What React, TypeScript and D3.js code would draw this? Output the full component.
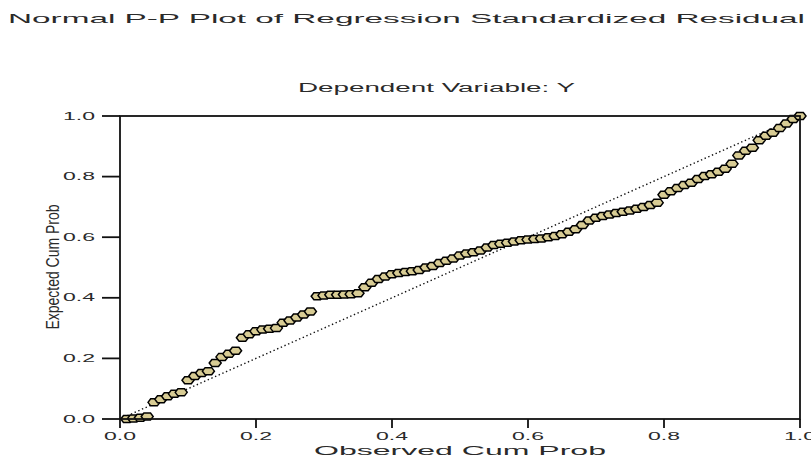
import React from 'react';
import * as d3 from 'd3';

// observed cumulative probability (x) and expected cumulative probability (y)
const observed = [
  0.01, 0.02, 0.03, 0.04, 0.05, 0.06, 0.07, 0.08, 0.09, 0.10,
  0.11, 0.12, 0.13, 0.14, 0.15, 0.16, 0.17, 0.18, 0.19, 0.20,
  0.21, 0.22, 0.23, 0.24, 0.25, 0.26, 0.27, 0.28, 0.29, 0.30,
  0.31, 0.32, 0.33, 0.34, 0.35, 0.36, 0.37, 0.38, 0.39, 0.40,
  0.41, 0.42, 0.43, 0.44, 0.45, 0.46, 0.47, 0.48, 0.49, 0.50,
  0.51, 0.52, 0.53, 0.54, 0.55, 0.56, 0.57, 0.58, 0.59, 0.60,
  0.61, 0.62, 0.63, 0.64, 0.65, 0.66, 0.67, 0.68, 0.69, 0.70,
  0.71, 0.72, 0.73, 0.74, 0.75, 0.76, 0.77, 0.78, 0.79, 0.80,
  0.81, 0.82, 0.83, 0.84, 0.85, 0.86, 0.87, 0.88, 0.89, 0.90,
  0.91, 0.92, 0.93, 0.94, 0.95, 0.96, 0.97, 0.98, 0.99, 1.00,
];
const expected = [
  0.000, 0.002, 0.004, 0.008, 0.055, 0.065, 0.075, 0.083, 0.088, 0.128,
  0.142, 0.152, 0.158, 0.185, 0.205, 0.215, 0.225, 0.268, 0.280, 0.290,
  0.295, 0.298, 0.300, 0.318, 0.325, 0.335, 0.345, 0.355, 0.405, 0.408,
  0.410, 0.410, 0.411, 0.412, 0.415, 0.435, 0.450, 0.462, 0.470, 0.478,
  0.482, 0.485, 0.488, 0.492, 0.500, 0.505, 0.515, 0.522, 0.530, 0.540,
  0.546, 0.550, 0.556, 0.566, 0.574, 0.578, 0.582, 0.586, 0.590, 0.592,
  0.594, 0.596, 0.600, 0.604, 0.610, 0.618, 0.626, 0.640, 0.655, 0.664,
  0.670, 0.675, 0.680, 0.684, 0.688, 0.694, 0.700, 0.706, 0.714, 0.740,
  0.752, 0.762, 0.772, 0.780, 0.792, 0.802, 0.808, 0.816, 0.826, 0.842,
  0.870, 0.885, 0.895, 0.920, 0.935, 0.945, 0.960, 0.975, 0.990, 1.000,
];
const ticks = [0, 0.2, 0.4, 0.6, 0.8, 1.0];

const title = 'Normal P-P Plot of Regression Standardized Residual';
const subtitle = 'Dependent Variable: Y';
const xLabel = 'Observed Cum Prob';
const yLabel = 'Expected Cum Prob';

const W = 811;
const H = 463;
const font = '"Liberation Sans", Arial, sans-serif';

export default function App() {
  const x = d3.scaleLinear().domain([0, 1]).range([120, 800]);
  const y = d3.scaleLinear().domain([0, 1]).range([419, 116]);

  const marker = 'M-6,0 L-3.3,-3.5 L3.3,-3.5 L6,0 L3.3,3.5 L-3.3,3.5 Z';
  const diag = d3.line<number>().x((d) => x(d)).y((d) => y(d))([0, 1]) || '';

  return (
    <svg width={W} height={H} style={{ position: 'absolute', left: 0, top: 0 }}>
      <rect width={W} height={H} fill="#fff" />
      {/* titles */}
      <text x={8} y={23} fontFamily={font} fontSize={13} fill="#2a2a2a"
        textLength={797} lengthAdjust="spacingAndGlyphs">{title}</text>
      <text x={298} y={92} fontFamily={font} fontSize={12} fill="#2a2a2a"
        textLength={277} lengthAdjust="spacingAndGlyphs">{subtitle}</text>

      {/* reference diagonal */}
      <path d={diag} stroke="#111" strokeWidth={1.4} strokeDasharray="1.4,2.6" fill="none" />

      {/* points */}
      {observed.map((o, i) => (
        <path key={i} d={marker} transform={`translate(${x(o)},${y(expected[i])})`}
          fill="#d8cc94" stroke="#000" strokeWidth={1.5} />
      ))}

      {/* frame */}
      <rect x={x(0)} y={y(1)} width={x(1) - x(0)} height={y(0) - y(1)}
        fill="none" stroke="#111" strokeWidth={1.8} />

      {/* y axis ticks */}
      {ticks.map((t) => (
        <g key={'y' + t}>
          <line x1={x(0) - 18} x2={x(0)} y1={y(t)} y2={y(t)} stroke="#111" strokeWidth={1.8} />
          <text x={95} y={y(t)} dy="0.35em" textAnchor="end" fontFamily={font} fontSize={10}
            fill="#2a2a2a" textLength={32} lengthAdjust="spacingAndGlyphs">{t.toFixed(1)}</text>
        </g>
      ))}

      {/* x axis ticks */}
      {ticks.map((t) => (
        <g key={'x' + t}>
          <line x1={x(t)} x2={x(t)} y1={y(0)} y2={y(0) + 9} stroke="#111" strokeWidth={1.8} />
          <text x={x(t) - 16} y={440} fontFamily={font} fontSize={10}
            fill="#2a2a2a" textLength={32} lengthAdjust="spacingAndGlyphs">{t.toFixed(1)}</text>
        </g>
      ))}

      {/* axis labels */}
      <text x={314} y={455} fontFamily={font} fontSize={13} fill="#2a2a2a"
        textLength={292} lengthAdjust="spacingAndGlyphs">{xLabel}</text>
      <text transform={`translate(59,${(y(0) + y(1)) / 2 + 62}) rotate(-90)`} fontFamily={font}
        fontSize={19} fill="#2a2a2a" textLength={125} lengthAdjust="spacingAndGlyphs">{yLabel}</text>
    </svg>
  );
}
